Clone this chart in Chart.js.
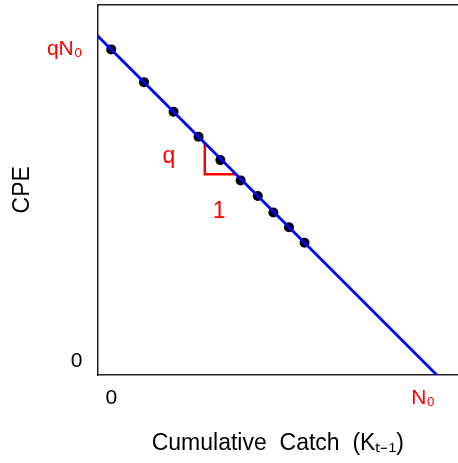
<!DOCTYPE html>
<html>
<head>
<meta charset="utf-8">
<script src="https://cdn.jsdelivr.net/npm/chart.js@4.4.1/dist/chart.umd.min.js"></script>
<style>
  html, body { margin: 0; padding: 0; background: #fff; overflow: hidden; }
  #wrap { width: 458px; height: 463px; }
</style>
</head>
<body>
<div id="wrap"><canvas id="canvas" width="458" height="463"></canvas></div>
<script>
  //-----------------------
  // - DE LURY DEPLETION PLOT -
  //-----------------------

  // cumulative catch (x) and CPE (y) (N0 = qN0 = 100)
  const catchValues = [0, 10.5, 20, 28, 35, 41.5, 47, 52, 57, 62];
  const cpeValues = [100, 89.5, 80, 72, 64.5, 58, 53, 47.7, 43, 38];

  // fitted regression line, ends beyond the plot box
  const fitX = [-10, 110];
  const fitY = [110, -10];

  // slope triangle
  const triX = [30, 30, 40];
  const triY = [70, 60, 60];

  // tick labels
  const xTickValues = [0, 100];
  const xTickLabels = ['0', 'N\u2080'];
  const xTickColors = ['#000000', '#ff0000'];
  const yTickValues = [0, 100];
  const yTickLabels = ['0', 'qN\u2080'];
  const yTickColors = ['#000000', '#ff0000'];

  // text annotations on the triangle
  const noteText = ['q', '1'];
  const noteX = [18.5, 34.6];
  const noteY = [63.6, 45.8];

  const fontFamily = "'Liberation Sans', Arial, Helvetica, sans-serif";

  const toPoints = (xs, ys) => xs.map((x, i) => ({ x: x, y: ys[i] }));

  // drop the label overflow padding so the plot box sits where it should
  const noPad = (scale) => {
    scale.paddingTop = 0;
    scale.paddingBottom = 0;
    scale.paddingLeft = 0;
    scale.paddingRight = 0;
  };

  const notesPlugin = {
    id: 'notes',
    afterDatasetsDraw(chart) {
      const ctx = chart.ctx;
      const sx = chart.scales.x;
      const sy = chart.scales.y;
      ctx.save();
      ctx.fillStyle = '#ff0000';
      ctx.font = '23px ' + fontFamily;
      ctx.textAlign = 'center';
      ctx.textBaseline = 'alphabetic';
      noteText.forEach((t, i) => {
        ctx.fillText(t, sx.getPixelForValue(noteX[i]), sy.getPixelForValue(noteY[i]));
      });
      ctx.restore();
    }
  };

  const ctx = document.getElementById('canvas').getContext('2d');

  const myChart = new Chart(ctx, {
    type: 'scatter',
    data: {
      datasets: [{
        label: 'fit',
        data: toPoints(fitX, fitY),
        showLine: true,
        borderColor: '#0000ff',
        borderWidth: 2.75,
        pointRadius: 0,
        clip: 0
      },
      {
        label: 'slope',
        data: toPoints(triX, triY),
        showLine: true,
        borderColor: '#ff0000',
        borderWidth: 2.5,
        pointRadius: 0,
        clip: 0
      },
      {
        label: 'observed',
        data: toPoints(catchValues, cpeValues),
        backgroundColor: '#000000',
        borderColor: '#000000',
        pointRadius: 5,
        pointBorderWidth: 0
      }]
    },
    options: {
      responsive: false,
      animation: false,
      layout: { padding: 0, autoPadding: false },
      plugins: {
        legend: { display: false },
        tooltip: { enabled: false }
      },
      scales: {
        x: {
          type: 'linear',
          position: 'bottom',
          min: -4.4,
          max: 111.2,
          afterBuildTicks: (scale) => { scale.ticks = xTickValues.map(v => ({ value: v })); },
          afterFit: (scale) => { scale.height = 88; noPad(scale); },
          grid: { display: false, drawTicks: false },
          border: { display: true, color: '#222222', width: 1.5 },
          ticks: {
            padding: 11,
            maxRotation: 0,
            autoSkip: false,
            font: { size: 21, family: fontFamily },
            color: (c) => xTickColors[xTickValues.indexOf(c.tick.value)],
            callback: (v) => xTickLabels[xTickValues.indexOf(v)]
          },
          title: {
            display: true,
            text: 'Cumulative  Catch  (K\u209C\u208B\u2081)',
            color: '#000000',
            font: { size: 23, family: fontFamily },
            padding: { top: 0, bottom: 6 }
          }
        },
        top: {
          type: 'linear',
          position: 'top',
          min: -4.4,
          max: 111.2,
          afterFit: (scale) => { scale.height = 4.5; noPad(scale); },
          grid: { display: false, drawTicks: false },
          border: { display: true, color: '#222222', width: 1.5 },
          ticks: { display: false }
        },
        y: {
          type: 'linear',
          position: 'left',
          min: -4.4,
          max: 114.4,
          afterBuildTicks: (scale) => { scale.ticks = yTickValues.map(v => ({ value: v })); },
          afterFit: (scale) => { scale.width = 97.5; noPad(scale); },
          grid: { display: false, drawTicks: false },
          border: { display: true, color: '#222222', width: 1.5 },
          ticks: {
            padding: 15,
            autoSkip: false,
            font: { size: 21, family: fontFamily },
            color: (c) => yTickColors[yTickValues.indexOf(c.tick.value)],
            callback: (v) => yTickLabels[yTickValues.indexOf(v)]
          },
          title: {
            display: true,
            text: 'CPE',
            color: '#000000',
            font: { size: 23, family: fontFamily },
            padding: { top: 9, bottom: 0 }
          }
        }
      }
    },
    plugins: [notesPlugin]
  });

  //---------------------------
  // - END DE LURY DEPLETION PLOT -
  //---------------------------
</script>
</body>
</html>
